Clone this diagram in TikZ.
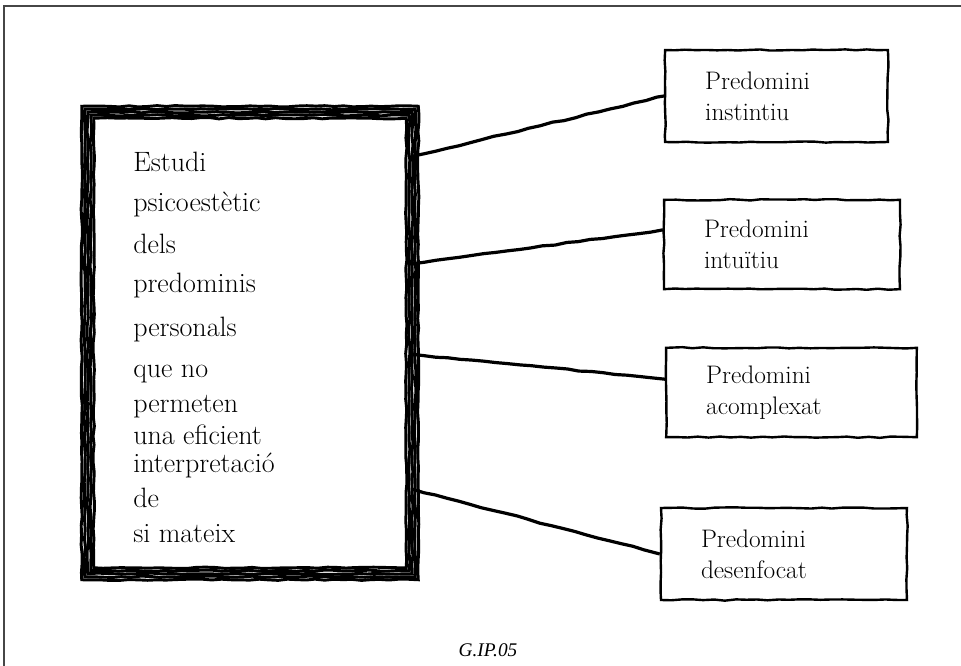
\documentclass[tikz,border=0pt]{standalone}
\usepackage{fontspec}
\usetikzlibrary{positioning}
\usetikzlibrary{decorations.pathmorphing}
\newfontfamily\capfont{Liberation Serif}
\definecolor{framegray}{RGB}{70,70,70}

\begin{document}
\begin{tikzpicture}[x=0.75pt, y=-0.75pt,
  sketch/.style={line width=2.2pt, decorate, decoration={random steps, segment length=7pt, amplitude=0.5pt}},
  conn/.style={line width=2.4pt, decorate, decoration={random steps, segment length=9pt, amplitude=0.5pt}},
  hbox/.style={draw, line width=1.8pt, align=left, inner xsep=30pt, inner ysep=0pt,
    decorate, decoration={random steps, segment length=8pt, amplitude=0.5pt},
    font=\fontsize{19}{23}\selectfont},
  handtext/.style={anchor=base west, inner sep=0pt, font=\fontsize{21}{24}\selectfont}]
  \pgfmathsetseed{7}
  \useasboundingbox (0,0) rectangle (961,666);
  \draw[framegray, line width=1.5pt] (4,666) -- (4,6) -- (961,6);

  % big box on the left
  \node[minimum width=243pt, minimum height=345.75pt, inner sep=0pt] (main) at (250,343) {};
  \foreach \d in {-6,-3,0,3,6}
    \draw[sketch] ([shift={(-\d,-\d)}]main.north west) rectangle ([shift={(\d,\d)}]main.south east);
  \foreach \y/\t in {172/Estudi, 212/psicoestètic, 254/dels, 293/predominis, 337/personals,
      378/que no, 413/permeten, 445/una eficient, 473/interpretació, 508/de, 542/si mateix}
    \node[handtext] (w\y) at (133,\y) {\t};

  % the four predominis
  \node[hbox, text width=107pt, minimum height=69pt] (box1) at (776.5,96) {Predomini\\instintiu};
  \node[hbox, text width=117pt, minimum height=67pt] (box2) at (782,244.5) {Predomini\\intuïtiu};
  \node[hbox, text width=128pt, minimum height=67pt] (box3) at (791.5,392.5) {Predomini\\acomplexat};
  \node[hbox, text width=124.5pt, minimum height=69pt] (box4) at (784,554) {Predomini\\desenfocat};

  \draw[conn] (main.49) -- (box1.west);
  \draw[conn] (main.26) -- (box2.173);
  \draw[conn] (main.-4) -- (box3.174);
  \draw[conn] (main.-42) -- (box4.west);

  \node[font=\capfont\itshape\fontsize{14.5}{17}\selectfont] (cap) at (488,650) {G.IP.05};
\end{tikzpicture}
\end{document}
